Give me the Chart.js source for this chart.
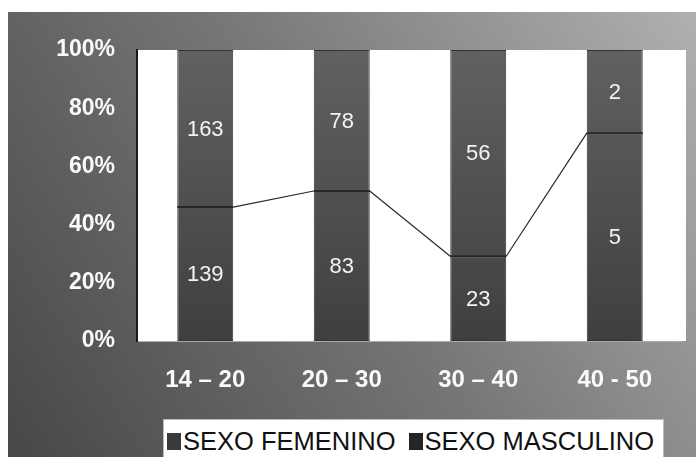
<!DOCTYPE html>
<html>
<head>
<meta charset="utf-8">
<script src="https://cdn.jsdelivr.net/npm/chart.js@4/dist/chart.umd.min.js"></script>
<style>
  html, body { margin: 0; padding: 0; background: #fff; }
  #wrap { position: relative; width: 696px; height: 457px; overflow: hidden; }
  #legend {
    position: absolute; left: 163px; top: 419px; width: 501px; height: 44px;
    background: #fff; box-sizing: border-box; border: 1px solid #bbb;
    font-family: "Liberation Sans", Arial, sans-serif; font-size: 25.5px; color: #111;
    display: flex; align-items: center; padding-left: 3px; white-space: nowrap;
  }
  #legend .item { display: flex; align-items: center; margin-right: 13px; }
  #legend .box { display: inline-block; width: 14px; height: 17px; margin-right: 2px; }
</style>
</head>
<body>
<div id="wrap">
  <canvas id="c" width="696" height="457"></canvas>
  <div id="legend"></div>
</div>
<script>
const categories = ["14 \u2013 20", "20 \u2013 30", "30 \u2013 40", "40 - 50"];
const femenino = [139, 83, 23, 5];
const masculino = [163, 78, 56, 2];
const seriesNames = ["SEXO FEMENINO", "SEXO MASCULINO"];
const yTicks = [0, 20, 40, 60, 80, 100];

const femPct = femenino.map((v, i) => v / (v + masculino[i]) * 100);
const mascPct = masculino.map((v, i) => v / (v + femenino[i]) * 100);
const rawValues = [femenino, masculino];

const legendColors = ["#3a3a3a", "#252525"];

function barGradient(ctx) {
  const chart = ctx.chart;
  const area = chart.chartArea;
  if (!area) return "#4a4a4a";
  const g = chart.ctx.createLinearGradient(0, area.top, 0, area.bottom);
  g.addColorStop(0, "#616161");
  g.addColorStop(1, "#3f3f3f");
  return g;
}

const bgPlugin = {
  id: "bg",
  beforeDraw(chart) {
    const ctx = chart.ctx;
    ctx.save();
    ctx.fillStyle = "#fff";
    ctx.fillRect(0, 0, chart.width, chart.height);
    const g = ctx.createLinearGradient(8, chart.height, chart.width, 12);
    g.addColorStop(0, "#474747");
    g.addColorStop(0.5, "#767676");
    g.addColorStop(1, "#b0b0b0");
    ctx.fillStyle = g;
    ctx.fillRect(8, 12, chart.width - 8, chart.height - 12);
    const a = chart.chartArea;
    ctx.fillStyle = "#fff";
    ctx.fillRect(a.left, a.top, a.right - a.left + 3, a.bottom - a.top);
    ctx.restore();
  }
};

const seriesLinePlugin = {
  id: "serieslines",
  afterDatasetsDraw(chart) {
    const ctx = chart.ctx;
    const meta = chart.getDatasetMeta(0);
    ctx.save();
    ctx.strokeStyle = "#2a2a2a";
    ctx.lineWidth = 1.2;
    for (let i = 0; i < meta.data.length - 1; i++) {
      const a = meta.data[i], b = meta.data[i + 1];
      ctx.beginPath();
      ctx.moveTo(a.x + a.width / 2, a.y);
      ctx.lineTo(b.x - b.width / 2, b.y);
      ctx.stroke();
    }
    ctx.lineWidth = 2;
    ctx.strokeStyle = "#262626";
    meta.data.forEach(el => {
      ctx.beginPath();
      ctx.moveTo(el.x - el.width / 2, el.y);
      ctx.lineTo(el.x + el.width / 2, el.y);
      ctx.stroke();
    });
    ctx.restore();
  }
};

const labelPlugin = {
  id: "vlabels",
  afterDatasetsDraw(chart) {
    const ctx = chart.ctx;
    ctx.save();
    ctx.fillStyle = "#f4f4f4";
    ctx.font = "22px 'Liberation Sans', Arial, sans-serif";
    ctx.textAlign = "center";
    ctx.textBaseline = "middle";
    chart.data.datasets.forEach((ds, di) => {
      const meta = chart.getDatasetMeta(di);
      meta.data.forEach((el, i) => {
        ctx.fillText(String(rawValues[di][i]), el.x, (el.y + el.base) / 2 + 1);
      });
    });
    ctx.restore();
  }
};

new Chart(document.getElementById("c"), {
  type: "bar",
  data: {
    labels: categories,
    datasets: [
      { label: seriesNames[0], data: femPct, backgroundColor: barGradient, borderColor: "#333", borderWidth: 1, borderSkipped: false, categoryPercentage: 1, barPercentage: 0.41 },
      { label: seriesNames[1], data: mascPct, backgroundColor: barGradient, borderColor: "#333", borderWidth: 1, borderSkipped: false, categoryPercentage: 1, barPercentage: 0.41 }
    ]
  },
  options: {
    responsive: false,
    animation: false,
    devicePixelRatio: 1,
    layout: { padding: { left: 0, top: 50, right: 13, bottom: 0 } },
    plugins: { legend: { display: false }, tooltip: { enabled: false } },
    scales: {
      x: {
        stacked: true,
        grid: { display: false, drawTicks: false },
        border: { display: true, color: "#aaa", width: 1 },
        ticks: { color: "#fafafa", font: { family: "'Liberation Sans', Arial, sans-serif", size: 24, weight: "bold" }, padding: 25 },
        afterFit(s) { s.height = 116; }
      },
      y: {
        stacked: true,
        min: 0, max: 100,
        grid: { display: false, drawTicks: false },
        border: { display: true, color: "#1a1a1a", width: 2 },
        afterBuildTicks(s) { s.ticks = yTicks.map(v => ({ value: v })); },
        ticks: {
          color: "#fafafa",
          font: { family: "'Liberation Sans', Arial, sans-serif", size: 23, weight: "bold" },
          padding: 22,
          callback: v => v + "%"
        },
        afterFit(s) { s.width = 137; }
      }
    }
  },
  plugins: [bgPlugin, seriesLinePlugin, labelPlugin]
});

const legend = document.getElementById("legend");
seriesNames.forEach((name, i) => {
  const item = document.createElement("span");
  item.className = "item";
  const box = document.createElement("span");
  box.className = "box";
  box.style.background = legendColors[i];
  const txt = document.createElement("span");
  txt.textContent = name;
  item.appendChild(box);
  item.appendChild(txt);
  legend.appendChild(item);
});
</script>
</body>
</html>
